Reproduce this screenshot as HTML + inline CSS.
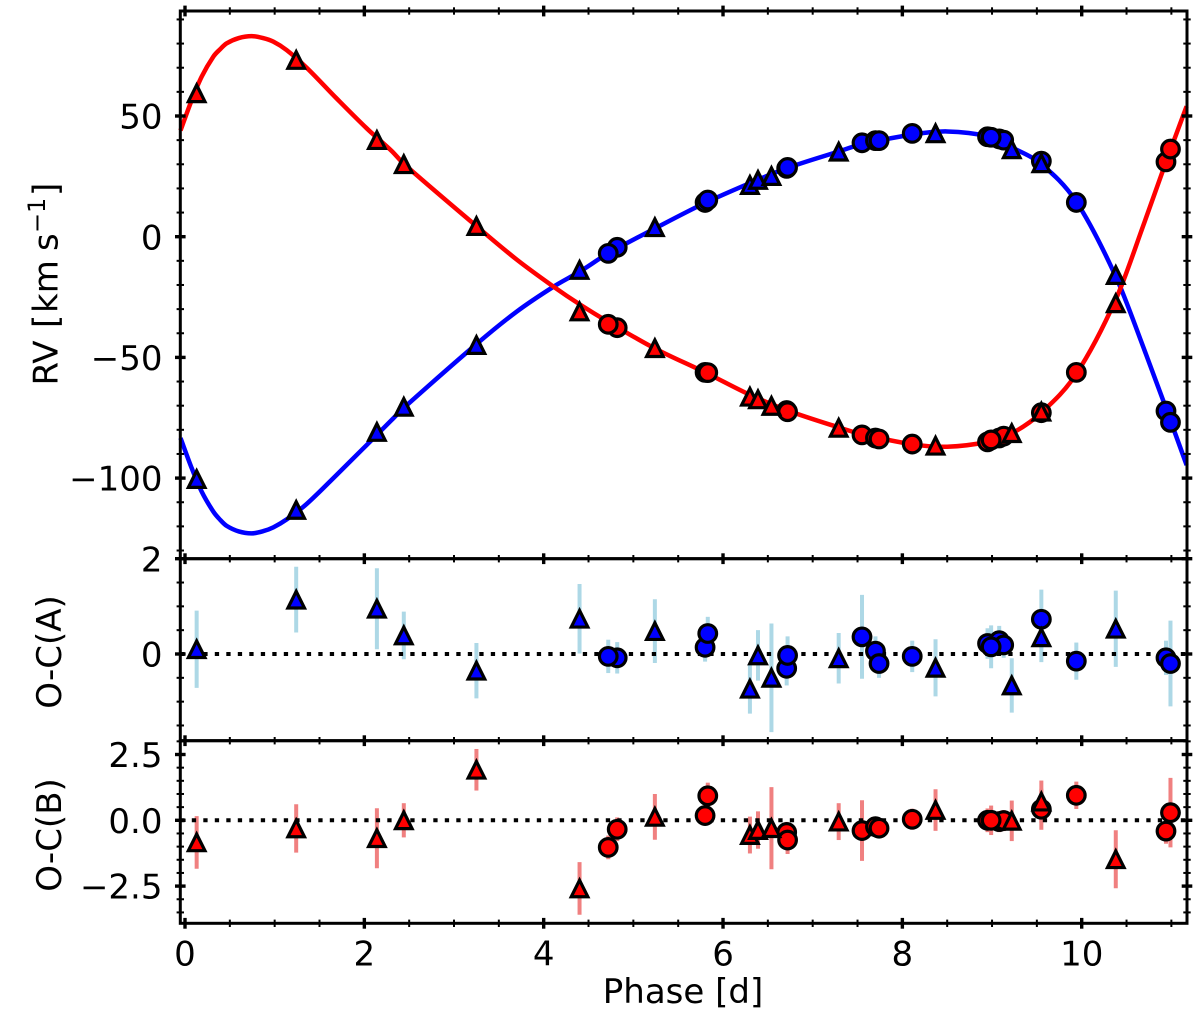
<!DOCTYPE html>
<html lang="en">
<head>
<meta charset="utf-8">
<title>Radial velocity phase curve</title>
<style>
html,body{margin:0;padding:0;background:#fff;}
svg{display:block;font-family:"DejaVu Sans","Liberation Sans",sans-serif;}
text{fill:#000;}
</style>
</head>
<body>
<svg id="chart" xmlns="http://www.w3.org/2000/svg" width="1200" height="1019" viewBox="0 0 1200 1019">
  <rect x="0" y="0" width="1200" height="1019" fill="#fff"/>
  <text font-size="34" transform="translate(57.5,383) rotate(-90)"><tspan x="-2.5">RV </tspan><tspan x="55">[</tspan><tspan x="70">km </tspan><tspan x="132">s</tspan><tspan x="150" dy="-12.5" font-size="24">−</tspan><tspan x="170" font-size="24">1</tspan><tspan x="187" dy="12.5">]</tspan></text>
  <text font-size="34" text-anchor="middle" transform="translate(61,652) rotate(-90)">O-C(A)</text>
  <text font-size="34" text-anchor="middle" transform="translate(61,835) rotate(-90)">O-C(B)</text>
  <text font-size="34" text-anchor="middle" x="683" y="1003">Phase [d]</text>
</svg>
<script>
// Model curves
const curvePhase = [-0.05,0.075,0.186,0.316,0.39,0.465,0.6,0.744,0.87,0.985,1.134,1.357,1.69,2.026,2.305,2.44,3.25,3.7,4.11,4.4,4.72,5.24,5.8,6.3,6.72,7.29,7.55,8.11,8.5,8.95,9.22,9.55,9.94,10.38,10.7,10.94,11.17];
const curveA = [-83.4,-95.9,-105.6,-113.9,-117.2,-119.8,-122.1,-122.9,-122,-120.4,-117.1,-110.7,-98.7,-86.3,-75.9,-70.9,-44.5,-31,-20.7,-14.5,-6.9,3.4,14,22.2,28.5,35.3,38.3,42.3,43.6,41.6,37,30,14.5,-16.5,-47,-71,-94.6];
const curveB = [44,56.6,66.3,74.6,77.6,80.1,82.3,83.1,82.3,80.8,77.3,70,57.3,44.9,35.5,30.2,4.4,-9.5,-20.7,-28,-35.3,-46.3,-56.2,-65.5,-72,-79,-81.8,-86,-87,-85,-81.5,-72.9,-56.8,-26,6,31,54];

// Triangle observations
const triPhase = [0.13,1.24,2.14,2.44,3.25,4.40,5.24,6.30,6.39,6.54,7.29,8.37,9.22,9.55,10.38];
const triRvA = [-100.4,-113.2,-80.9,-70.5,-44.9,-13.8,3.9,21.4,23.5,25.1,35.2,42.8,36.2,30.4,-15.9];
const triRvB = [59.4,73.2,40,30,4.4,-31,-46.2,-66.3,-67.4,-70.1,-79.2,-86.6,-81.4,-72.5,-27.6];
const triResA = [0.1,1.14,0.95,0.39,-0.35,0.74,0.48,-0.73,-0.03,-0.5,-0.09,-0.29,-0.66,0.35,0.53];
const triErrA = [0.81,0.69,0.85,0.5,0.58,0.73,0.67,0.52,0.53,1.14,0.53,0.6,0.57,0.52,0.8];
const triResB = [-0.84,-0.31,-0.68,0,1.92,-2.59,0.13,-0.56,-0.37,-0.3,-0.05,0.39,-0.02,0.71,-1.48];
const triErrB = [1.0,0.92,1.14,0.65,0.79,1.0,0.87,0.7,0.71,1.56,0.7,0.79,0.77,0.8,1.1];

// Circle observations
const cirPhase = [4.82,4.72,5.80,5.83,6.71,6.72,7.55,7.70,7.74,8.11,8.95,9.08,9.13,8.99,9.55,9.94,10.94,10.99];
const cirRvA = [-4.4,-6.9,14.2,15.2,28.3,28.7,38.9,39.8,39.8,42.8,41.4,40.5,40,41.2,31.3,14.2,-72.2,-76.9];
const cirRvB = [-37.7,-36.3,-56.2,-56.3,-72,-72.5,-82.1,-83.4,-83.8,-85.9,-85,-83.4,-82.6,-84.2,-72.9,-56.2,31,36.3];
const cirResA = [-0.08,-0.05,0.14,0.43,-0.3,-0.03,0.36,0.06,-0.2,-0.05,0.22,0.28,0.19,0.15,0.73,-0.15,-0.08,-0.2];
const cirErrA = [0.33,0.35,0.3,0.35,0.36,0.4,0.88,0.31,0.3,0.33,0.32,0.31,0.27,0.45,0.62,0.39,0.36,0.9];
const cirResB = [-0.34,-1.03,0.18,0.93,-0.46,-0.75,-0.39,-0.24,-0.3,0.04,0,-0.05,-0.01,0,0.42,0.95,-0.41,0.29];
const cirErrB = [0.45,0.45,0.3,0.5,0.4,0.53,1.15,0.35,0.35,0.4,0.45,0.4,0.4,0.56,0.78,0.52,0.48,1.32];

// Ticks
const xMajorTicks = [0,2,4,6,8,10];
const xMinorTicks = [0.5,1,1.5,2.5,3,3.5,4.5,5,5.5,6.5,7,7.5,8.5,9,9.5,10.5,11];
const xTickLabels = ['0','2','4','6','8','10'];
const rvMajorTicks = [50,0,-50,-100];
const rvTickLabels = ['50','0','−50','−100'];
const rvMinorTicks = [90,80,70,60,40,30,20,10,-10,-20,-30,-40,-60,-70,-80,-90,-110,-120,-130];
const resAMajorTicks = [2,0];
const resATickLabels = ['2','0'];
const resAMinorTicks = [1.5,1,0.5,-0.5,-1,-1.5];
const resBMajorTicks = [2.5,0,-2.5];
const resBTickLabels = ['2.5','0.0','−2.5'];
const resBMinorTicks = [3,2,1.5,1,0.5,-0.5,-1,-1.5,-2,-3,-3.5];

const SVG_NS = 'http://www.w3.org/2000/svg';
const svg = document.getElementById('chart');
const plotLeft = 180.3, plotRight = 1187;

// Axis functions
function xScale(v){ return 185 + v * 89.67; }
function yRv(v){ return 236.7 - v * 2.414; }
function yResA(v){ return 654 - v * 47.65; }
function yResB(v){ return 820.3 - v * 26.32; }

function mk(tag, attrs, parent){
  const el = document.createElementNS(SVG_NS, tag);
  for (const k in attrs) el.setAttribute(k, attrs[k]);
  parent.appendChild(el);
  return el;
}

function drawCurve(values, color, name, parent){
  const xs = curvePhase.map(xScale);
  const ys = values.map(yRv);
  const n = xs.length;
  const slope = [];
  for (let i = 0; i < n; i++){
    const a = Math.max(0, i - 1), b = Math.min(n - 1, i + 1);
    slope.push((ys[b] - ys[a]) / (xs[b] - xs[a]));
  }
  let d = 'M' + xs[0].toFixed(2) + ' ' + ys[0].toFixed(2);
  for (let i = 0; i < n - 1; i++){
    const h = (xs[i+1] - xs[i]) / 3;
    d += 'C' + (xs[i] + h).toFixed(2) + ' ' + (ys[i] + slope[i] * h).toFixed(2) + ' ' +
         (xs[i+1] - h).toFixed(2) + ' ' + (ys[i+1] - slope[i+1] * h).toFixed(2) + ' ' +
         xs[i+1].toFixed(2) + ' ' + ys[i+1].toFixed(2);
  }
  const p = mk('path', {d: d, fill: 'none', stroke: color, 'stroke-width': 4.5}, parent);
  
  
}

function drawTriangle(px, py, color, name, parent){
  const s = 8.3;
  const pts = px + ',' + (py - s) + ' ' + (px - s) + ',' + (py + s) + ' ' + (px + s) + ',' + (py + s);
  const m = mk('polygon', {points: pts, fill: color, stroke: '#000', 'stroke-width': 3.2, 'stroke-miterlimit': 10}, parent);
  
  
}

function drawCircle(px, py, color, name, parent){
  const m = mk('circle', {cx: px, cy: py, r: 8.8, fill: color, stroke: '#000', 'stroke-width': 3.2}, parent);
  
  
}

function drawErrorBars(phases, res, err, yFn, color, name, parent){
  phases.forEach(function(ph, i){
    const b = mk('line', {x1: xScale(ph), x2: xScale(ph), y1: yFn(res[i] - err[i]), y2: yFn(res[i] + err[i]), stroke: color, 'stroke-width': 4}, parent);
    
    
  });
}

function drawZeroLine(yFn, name, parent){
  const l = mk('line', {x1: plotLeft, x2: plotRight, y1: yFn(0), y2: yFn(0), stroke: '#000', 'stroke-width': 4, 'stroke-dasharray': '4.3 7.2'}, parent);
  
  
}

function drawMarkers(yTri, yCir, triFn, cirFn, color, prefix, parent){
  cirPhase.forEach(function(ph, i){
    drawCircle(xScale(ph), cirFn(yCir[i]), color, prefix + '-circle-point', parent);
  });
  triPhase.forEach(function(ph, i){
    drawTriangle(xScale(ph), triFn(yTri[i]), color, prefix + '-triangle-point', parent);
  });
}

function drawFrame(top, bottom, name){
  const r = mk('rect', {x: plotLeft, y: top, width: plotRight - plotLeft, height: bottom - top, fill: 'none', stroke: '#000', 'stroke-width': 3}, svg);
  
  
}

function tick(x1, y1, x2, y2, w, name){
  const t = mk('line', {x1: x1, y1: y1, x2: x2, y2: y2, stroke: '#000', 'stroke-width': w}, svg);
  
  
}

function drawXTicks(y){
  xMajorTicks.forEach(function(v){ tick(xScale(v), y - 5.4, xScale(v), y + 5.4, 3.4, 'x-major-tick'); });
  xMinorTicks.forEach(function(v){ tick(xScale(v), y - 3.7, xScale(v), y + 3.7, 2, 'x-minor-tick'); });
}

function drawYTicks(majors, minors, labels, yFn, name){
  majors.forEach(function(v, i){
    const y = yFn(v);
    tick(plotLeft - 5.3, y, plotLeft + 5.3, y, 3.4, name + '-major-tick');
    tick(plotRight - 5.3, y, plotRight + 5.3, y, 3.4, name + '-major-tick-right');
    const t = mk('text', {x: 162.5, y: y + 12.6, 'text-anchor': 'end', 'font-size': 34}, svg);
    t.textContent = labels[i];
    
    
  });
  minors.forEach(function(v){
    const y = yFn(v);
    tick(plotLeft - 3.7, y, plotLeft + 3.7, y, 2, name + '-minor-tick');
    tick(plotRight - 3.7, y, plotRight + 3.7, y, 2, name + '-minor-tick-right');
  });
}

// Main RV panel
const mainPanel = mk('g', {}, svg);


drawCurve(curveA, '#0000ff', 'model-curve-a', mainPanel);
drawCurve(curveB, '#ff0000', 'model-curve-b', mainPanel);
drawMarkers(triRvB, cirRvB, yRv, yRv, '#ff0000', 'rv-b', mainPanel);
drawMarkers(triRvA, cirRvA, yRv, yRv, '#0000ff', 'rv-a', mainPanel);

// Residual A panel
const panelA = mk('g', {}, svg);


drawErrorBars(cirPhase, cirResA, cirErrA, yResA, '#add8e6', 'residual-a-error-bar', panelA);
drawErrorBars(triPhase, triResA, triErrA, yResA, '#add8e6', 'residual-a-error-bar', panelA);
drawZeroLine(yResA, 'residual-a-zero-line', panelA);
drawMarkers(triResA, cirResA, yResA, yResA, '#0000ff', 'residual-a', panelA);

// Residual B panel
const panelB = mk('g', {}, svg);


drawErrorBars(cirPhase, cirResB, cirErrB, yResB, '#f08080', 'residual-b-error-bar', panelB);
drawErrorBars(triPhase, triResB, triErrB, yResB, '#f08080', 'residual-b-error-bar', panelB);
drawZeroLine(yResB, 'residual-b-zero-line', panelB);
drawMarkers(triResB, cirResB, yResB, yResB, '#ff0000', 'residual-b', panelB);

// Frames and ticks
drawFrame(11, 558.7, 'rv-panel-frame');
drawFrame(558.7, 740.7, 'residual-a-panel-frame');
drawFrame(740.7, 923.3, 'residual-b-panel-frame');
[11, 558.7, 740.7, 923.3].forEach(drawXTicks);
drawYTicks(rvMajorTicks, rvMinorTicks, rvTickLabels, yRv, 'rv-axis');
drawYTicks(resAMajorTicks, resAMinorTicks, resATickLabels, yResA, 'residual-a-axis');
drawYTicks(resBMajorTicks, resBMinorTicks, resBTickLabels, yResB, 'residual-b-axis');

xMajorTicks.forEach(function(v, i){
  const t = mk('text', {x: xScale(v), y: 965.5, 'text-anchor': 'middle', 'font-size': 34}, svg);
  t.textContent = xTickLabels[i];
  
  
});
</script>
</body>
</html>
